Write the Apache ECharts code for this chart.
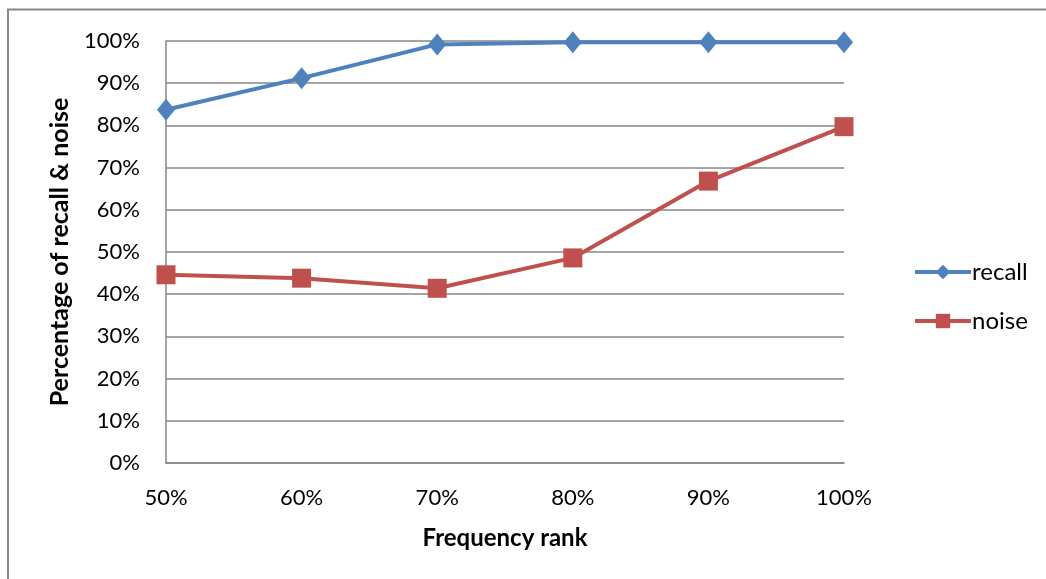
<!DOCTYPE html>
<html><head><meta charset="utf-8">
<script src="https://cdn.jsdelivr.net/npm/echarts@6/dist/echarts.min.js"></script>
<style>html,body{margin:0;padding:0;background:#fff}#c{width:1046px;height:579px}</style>
</head><body><div id="c"></div>
<script>
var categories = ['50%', '60%', '70%', '80%', '90%', '100%'];
var recall = [83.7, 91.2, 99.2, 99.7, 99.7, 99.7];
var noise = [44.6, 43.8, 41.4, 48.6, 66.8, 79.7];
var yTicks = [0, 10, 20, 30, 40, 50, 60, 70, 80, 90, 100];

var font = 'Lato, "Open Sans", sans-serif';
var chart = echarts.init(document.getElementById('c'));
chart.setOption({
  animation: false,
  textStyle: {fontFamily: font},
  graphic: [{
    type: 'polyline', silent: true,
    shape: {points: [[8, 579], [8, 9.5], [1046, 9.5]]},
    style: {stroke: '#888', lineWidth: 2, fill: null}
  }],
  grid: {left: 166, right: 202, top: 41, bottom: 116, containLabel: false},
  legend: {
    orient: 'vertical', left: 913, top: 260, itemGap: 25, padding: 0,
    itemWidth: 56, itemHeight: 18,
    lineStyle: {width: 4},
    textStyle: {fontSize: 24, color: '#000', fontFamily: font, padding: [0, 0, 0, -4]},
    data: ['recall', 'noise']
  },
  xAxis: {
    type: 'category', data: categories, boundaryGap: false,
    axisLine: {lineStyle: {color: '#868686', width: 1.5}},
    axisTick: {show: false},
    axisLabel: {fontSize: 22, color: '#000', margin: 24, fontFamily: font},
    name: 'Frequency rank', nameLocation: 'middle', nameGap: 63,
    nameTextStyle: {fontSize: 24, fontWeight: 'bold', color: '#000', fontFamily: font}
  },
  yAxis: {
    type: 'value', min: 0, max: 100, interval: 10,
    axisLine: {show: true, lineStyle: {color: '#868686', width: 1.5}},
    axisTick: {show: false},
    splitLine: {lineStyle: {color: '#868686', width: 1.5}},
    axisLabel: {fontSize: 22, color: '#000', margin: 26, fontFamily: font,
      formatter: function (v) { return yTicks.indexOf(v) >= 0 ? v + '%' : ''; }},
    name: 'Percentage of recall & noise', nameLocation: 'middle', nameGap: 94,
    nameTextStyle: {fontSize: 25, fontWeight: 'bold', color: '#000', fontFamily: font}
  },
  series: [{
    name: 'recall', type: 'line', data: recall,
    symbol: 'diamond', symbolSize: [18, 22],
    lineStyle: {color: '#4F81BD', width: 4},
    itemStyle: {color: '#4F81BD'}
  }, {
    name: 'noise', type: 'line', data: noise,
    symbol: 'rect', symbolSize: 19,
    lineStyle: {color: '#C0504D', width: 4},
    itemStyle: {color: '#C0504D'}
  }]
});
</script></body></html>
